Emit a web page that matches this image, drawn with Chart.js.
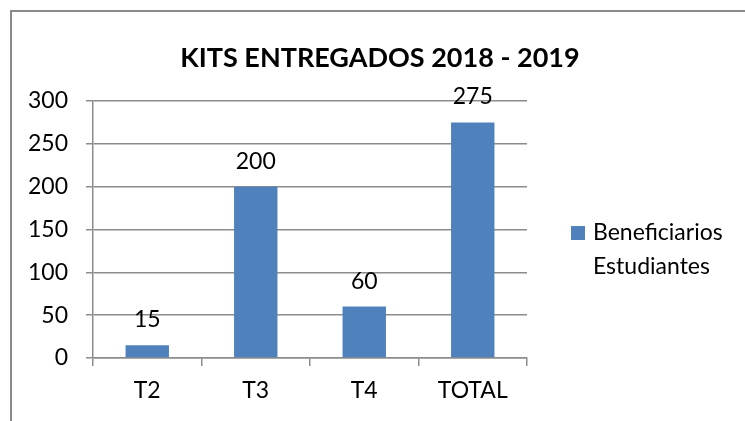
<!DOCTYPE html>
<html>
<head>
<meta charset="utf-8">
<script src="https://cdn.jsdelivr.net/npm/chart.js@4.4.1/dist/chart.umd.min.js"></script>
<style>
  html, body { margin: 0; padding: 0; background: #fff; overflow: hidden; }
  #frame { position: absolute; left: 10px; top: 10px; width: 760px; height: 430px; border: 2px solid #8a8a8a; box-sizing: border-box; }
  #wrap { position: absolute; left: 0; top: 0; width: 745px; height: 421px; }
</style>
</head>
<body>
<div id="frame"></div>
<div id="wrap"><canvas id="chart" width="745" height="421"></canvas></div>
<script>
// chart data
const categories = ['T2', 'T3', 'T4', 'TOTAL'];
const beneficiarios = [15, 200, 60, 275];
const seriesLabel = ['Beneficiarios', 'Estudiantes'];
const titleText = 'KITS ENTREGADOS 2018 - 2019';
const yTicks = { min: 0, max: 300, step: 50 };

const FONT = 'Lato, "Open Sans", sans-serif';
const BAR_BLUE = '#4f81bd';
const GRID_GRAY = '#8c8c8c';

// value labels above each bar
const valueLabels = {
    id: 'valueLabels',
    afterDatasetsDraw(chart) {
        const ctx = chart.ctx;
        const meta = chart.getDatasetMeta(0);
        ctx.save();
        ctx.font = '23px ' + FONT;
        ctx.fillStyle = '#000';
        ctx.textAlign = 'center';
        ctx.textBaseline = 'alphabetic';
        meta.data.forEach((bar, i) => {
            ctx.fillText(String(beneficiarios[i]), bar.x, bar.y - 18);
        });
        ctx.restore();
    }
};

// title centred over the whole frame, two-line legend on the right
const frameText = {
    id: 'frameText',
    afterDraw(chart) {
        const ctx = chart.ctx;
        ctx.save();
        ctx.fillStyle = '#000';
        ctx.font = 'bold 27px ' + FONT;
        ctx.textAlign = 'center';
        ctx.textBaseline = 'middle';
        ctx.fillText(titleText, 380, 58);

        const x = chart.chartArea.right + 44;
        const y = 233;
        ctx.fillStyle = BAR_BLUE;
        ctx.fillRect(x, y - 7, 14, 14);
        ctx.fillStyle = '#000';
        ctx.font = '23px ' + FONT;
        ctx.textAlign = 'left';
        seriesLabel.forEach((line, i) => {
            ctx.fillText(line, x + 22, y + i * 34);
        });
        ctx.restore();
    }
};

const chart = new Chart(document.getElementById('chart'), {
    type: 'bar',
    data: {
        labels: categories,
        datasets: [{
            label: seriesLabel.join(' '),
            data: beneficiarios,
            backgroundColor: BAR_BLUE,
            borderWidth: 0,
            barPercentage: 0.4,
            categoryPercentage: 1
        }]
    },
    options: {
        responsive: false,
        animation: false,
        events: [],
        layout: { padding: { left: 0, right: 218, top: 101, bottom: 0 } },
        plugins: {
            legend: { display: false },
            tooltip: { enabled: false },
            title: { display: false }
        },
        scales: {
            x: {
                offset: true,
                grid: {
                    offset: true,
                    drawOnChartArea: false,
                    drawTicks: true,
                    tickLength: 8,
                    color: GRID_GRAY,
                    lineWidth: 1.5
                },
                border: { display: true, color: GRID_GRAY, width: 1.5 },
                ticks: {
                    color: '#000',
                    font: { family: FONT, size: 23 },
                    padding: 11,
                    maxRotation: 0
                },
                afterFit(scale) { scale.height = 63; }
            },
            y: {
                min: yTicks.min,
                max: yTicks.max,
                ticks: {
                    stepSize: yTicks.step,
                    color: '#000',
                    font: { family: FONT, size: 23 },
                    padding: 18
                },
                grid: {
                    color: GRID_GRAY,
                    lineWidth: 1.5,
                    tickLength: 7
                },
                border: { display: true, color: GRID_GRAY, width: 1.5 },
                afterFit(scale) { scale.width = 93; }
            }
        }
    },
    plugins: [valueLabels, frameText]
});
</script>
</body>
</html>
